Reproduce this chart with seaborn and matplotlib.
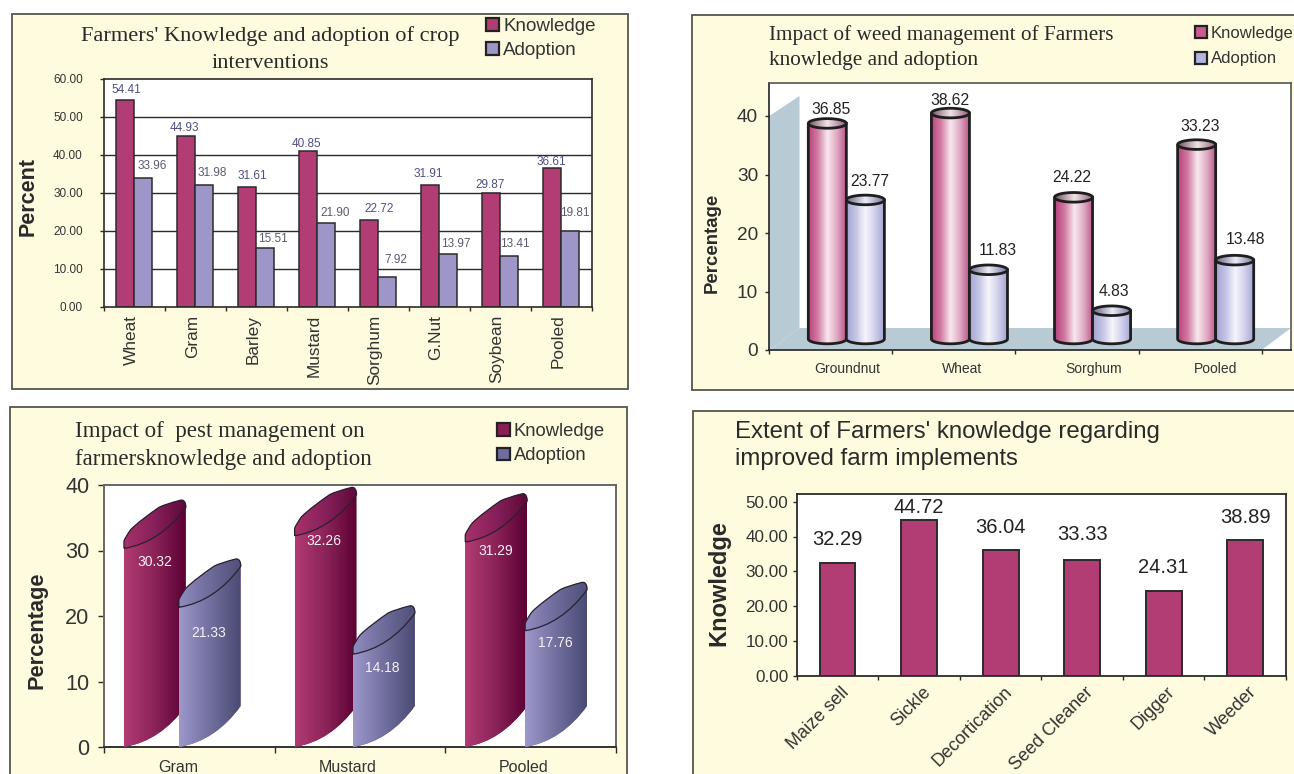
import numpy as np
import pandas as pd
import matplotlib
matplotlib.use("Agg")
import matplotlib.pyplot as plt
import seaborn as sns
from matplotlib.colors import LinearSegmentedColormap
from matplotlib.patches import Patch, PathPatch, Rectangle
from matplotlib.path import Path

# ---- chart values ----
series = ["Knowledge", "Adoption"]

crops = ["Wheat", "Gram", "Barley", "Mustard", "Sorghum", "G.Nut", "Soybean", "Pooled"]
crop_knowledge = [54.41, 44.93, 31.61, 40.85, 22.72, 31.91, 29.87, 36.61]
crop_adoption = [33.96, 31.98, 15.51, 21.90, 7.92, 13.97, 13.41, 19.81]

weed_crops = ["Groundnut", "Wheat", "Sorghum", "Pooled"]
weed_knowledge = [36.85, 38.62, 24.22, 33.23]
weed_adoption = [23.77, 11.83, 4.83, 13.48]

pest_crops = ["Gram", "Mustard", "Pooled"]
pest_knowledge = [30.32, 32.26, 31.29]
pest_adoption = [21.33, 14.18, 17.76]

implements = ["Maize sell", "Sickle", "Decortication", "Seed Cleaner", "Digger", "Weeder"]
implement_knowledge = [32.29, 44.72, 36.04, 33.33, 24.31, 38.89]

# ---- page setup ----
W, H = 1294, 774
CREAM = "#FFFBDE"
FRAME = "#55554C"
INK = "#2A2A2A"
SERIF = "Liberation Serif"
SANS = "Liberation Sans"

sns.set_theme(style="white")
plt.rcParams["font.family"] = [SANS, "DejaVu Sans"]
fig = plt.figure(figsize=(W / 100, H / 100), dpi=100, facecolor="white")


def fx(px):
    return px / W


def fy(py):
    return 1 - py / H


def add_panel(left, top, right, bottom):
    fig.add_artist(Rectangle((fx(left), fy(bottom)), (right - left) / W, (bottom - top) / H,
                             transform=fig.transFigure, facecolor=CREAM,
                             edgecolor=FRAME, linewidth=1.3, zorder=-5))


def add_axes(left, top, right, bottom):
    ax = fig.add_axes([fx(left), fy(bottom), (right - left) / W, (bottom - top) / H])
    ax.set_facecolor("white")
    return ax


def long_table(cats, **columns):
    return pd.DataFrame({"cat": cats, **columns}).melt(id_vars="cat", var_name="series", value_name="value")


def draw_bars(ax, table, colors, width, edge="none", lw=0.0):
    sns.barplot(data=table, x="cat", y="value", hue="series", hue_order=list(colors),
                palette=colors, width=width, gap=0, saturation=1, errorbar=None,
                edgecolor=edge, linewidth=lw, legend=False, ax=ax)
    ax.set_xlabel("")
    ax.set_ylabel("")
    ax.set_autoscale_on(False)


def style_axes(ax, n, xlim, ylim, yticks, fmt, tick_size, pad, spine, spine_lw=1.0, ticklen=3.0):
    ax.set_xlim(*xlim)
    ax.set_ylim(*ylim)
    ax.set_xticks(np.arange(n + 1) - 0.5, labels=[""] * (n + 1))
    ax.set_yticks(yticks, labels=[fmt.format(v) for v in yticks])
    ax.tick_params(axis="both", direction="out", length=ticklen, width=1.0, color=INK,
                   bottom=True, left=True)
    ax.tick_params(axis="y", labelsize=tick_size, labelcolor="#333333", pad=pad)
    for side, s in ax.spines.items():
        s.set_color(spine)
        s.set_linewidth(spine_lw)
        s.set_visible(True)


def category_labels(ax, cats, nudges, drop, size, rotation=0, ha="center", va="center", mode="default"):
    for i, (cat, dx) in enumerate(zip(cats, nudges)):
        ax.annotate(cat, xy=(i, 0), xycoords=("data", "axes fraction"),
                    xytext=(dx, -drop), textcoords="offset pixels", fontsize=size,
                    rotation=rotation, ha=ha, va=va, rotation_mode=mode,
                    color="#333333", annotation_clip=False)


def legend_at(ax, colors, left, top, size, swatch, row_gap, edge="#222222"):
    handles = [Patch(facecolor=c, edgecolor=edge, linewidth=1.6) for c in colors.values()]
    size_px = size * 100 / 72
    ax.legend(handles, list(colors), loc="upper left",
              bbox_to_anchor=(fx(left), fy(top)), bbox_transform=fig.transFigure,
              frameon=False, fontsize=size, borderpad=0, borderaxespad=0,
              handlelength=swatch / size_px, handleheight=swatch / size_px,
              handletextpad=0.22, labelspacing=row_gap / size_px, labelcolor="#333333")


def gradient_fill(ax, path, stops, zorder):
    box = path.get_extents()
    cmap = LinearSegmentedColormap.from_list("shade", stops)
    im = ax.imshow(np.linspace(0, 1, 256)[None, :], cmap=cmap, aspect="auto",
                   extent=(box.x0, box.x1, box.y0, box.y1), zorder=zorder,
                   interpolation="bilinear")
    im.set_clip_path(path, transform=ax.transData)
    return im


# ---- crop interventions: flat grouped bars ----
add_panel(12, 14, 628, 389)
ax = add_axes(103.7, 78.7, 591.5, 306.7)
colors_a = {"Knowledge": "#B23C74", "Adoption": "#9E96C8"}
draw_bars(ax, long_table(crops, Knowledge=crop_knowledge, Adoption=crop_adoption),
          colors_a, 0.6, edge="#2B2B2B", lw=1.1)
style_axes(ax, len(crops), (-0.5, len(crops) - 0.5), (0, 60), list(range(0, 70, 10)),
           "{:.2f}", 8.5, 12, "#2B2B2B", 1.2)
ax.grid(False)
for v in range(10, 60, 10):
    ax.axhline(v, color="#2B2B2B", lw=1.0, zorder=0.5)
ax.set_axisbelow(True)
category_labels(ax, crops, [-3] * len(crops), 8, 12.4, rotation=90, va="top")
nudge_a = [[(1, 10), (-2, 8), (5, 10.5), (-1, 7.5), (10, 11), (-2, 11), (-1, 8.5), (-1, 6)],
           [(9, 12), (8, 12), (8, 9), (9, 10.5), (9, 17), (8, 10), (5.5, 12), (5, 18)]]
label_colors_a = ["#4E4E86", "#5A5A70"]
for k, values in enumerate((crop_knowledge, crop_adoption)):
    for bar, v, (dx, dy) in zip(ax.containers[k], values, nudge_a[k]):
        ax.annotate(f"{v:.2f}", xy=(bar.get_x() + bar.get_width() / 2, v), xytext=(dx, dy),
                    textcoords="offset pixels", ha="center", va="center", fontsize=8.5,
                    color=label_colors_a[k], annotation_clip=False)
fig.text(fx(270), fy(36), "Farmers' Knowledge and adoption of crop", family=SERIF,
         fontsize=16.1, ha="center", va="center", color=INK)
fig.text(fx(270.5), fy(64), "interventions", family=SERIF, fontsize=16.1,
         ha="center", va="center", color=INK)
fig.text(fx(27.8), fy(196.7), "Percent", fontsize=15.5, weight="bold", rotation=90,
         ha="center", va="center", color=INK)
legend_at(ax, colors_a, 486, 18, 13.5, 13, 6.5)

# ---- weed management: cylinders standing on a shaded floor ----
add_panel(692, 14.7, 1310, 390)
ax = add_axes(769.3, 83, 1291, 350)
colors_b = {"Knowledge": "#C85C8E", "Adoption": "#B4B4DE"}
cat_px, val_px = 123.1, 5.85
draw_bars(ax, long_table(weed_crops, Knowledge=weed_knowledge, Adoption=weed_adoption),
          colors_b, 0.618)
style_axes(ax, len(weed_crops), (-0.5, -0.5 + (1291 - 769.3) / cat_px),
           (0, 267 / val_px), [0, 10, 20, 30, 40], "{:d}", 13.7, 5, "#555555", 1.2, 3.0)
ax.spines["left"].set_color("#222222")
ax.spines["bottom"].set_color("#222222")


def bx(px):
    return -0.5 + (px - 769.3) / cat_px


def by(py):
    return (350 - py) / val_px


ax.fill([bx(769.3), bx(799.5), bx(799.5), bx(769.3)], [by(116), by(96), by(328), by(350)],
        color="#B8CBD4", lw=0, zorder=0.6)
ax.fill([bx(769.3), bx(1261.7), bx(1291), bx(799.5)], [by(350), by(350), by(328), by(328)],
        color="#B8CBD4", lw=0, zorder=0.6)

depth_x, depth_y = 15.5 / cat_px, 11 / val_px
cap_ry = 4.8 / val_px
side_stops = [["#B8427C", "#D27AA2", "#F8E8EF", "#DFA8C2", "#B84F84"],
              ["#A4A4D4", "#C4C4E4", "#F6F6FC", "#CFCFEA", "#A0A0D0"]]
cap_stops = [["#6B5560", "#B59AA6", "#F0E4E8", "#C29CB0", "#8A5A74"],
             ["#6A6A80", "#A6A6C0", "#ECECF6", "#AEAECC", "#74749A"]]
half = np.linspace(0, np.pi, 40)
nudge_b = [[(3.5, 14), (-1, 13), (-2, 20), (3, 18)], [(4, 18), (9, 19), (2, 19), (11, 21)]]
for k, values in enumerate((weed_knowledge, weed_adoption)):
    for bar, v, (dx, dy) in zip(ax.containers[k], values, nudge_b[k]):
        x0 = bar.get_x() + depth_x
        w = bar.get_width()
        cx, rx = x0 + w / 2, w / 2
        bar.set_x(x0)
        bar.set_y(depth_y)
        top = depth_y + v
        z = 3 + k * 2
        body = Path(np.vstack([[x0, top], [x0, depth_y],
                               np.c_[cx - rx * np.cos(half), depth_y - cap_ry * np.sin(half)],
                               [x0 + w, top], [x0, top]]))
        cap = Path(np.c_[cx + rx * np.cos(np.linspace(0, 2 * np.pi, 60)),
                         top + cap_ry * np.sin(np.linspace(0, 2 * np.pi, 60))], closed=False)
        bar.set_clip_path(body, transform=ax.transData)
        bar.set_zorder(z - 0.5)
        gradient_fill(ax, body, side_stops[k], z)
        ax.add_patch(PathPatch(body, facecolor="none", edgecolor="#1E1E1E", lw=2.0, zorder=z + 0.1))
        gradient_fill(ax, cap, cap_stops[k], z + 0.2)
        ax.add_patch(PathPatch(cap, facecolor="none", edgecolor="#1E1E1E", lw=2.0, zorder=z + 0.3))
        ax.annotate(f"{v:.2f}", xy=(cx, top), xytext=(dx, dy), textcoords="offset pixels",
                    ha="center", va="center", fontsize=11.3, color="#222222",
                    annotation_clip=False, zorder=10)
category_labels(ax, weed_crops, [16, 8, 17, 15], 19, 10)
fig.text(fx(769), fy(35), "Impact of weed management of Farmers", family=SERIF,
         fontsize=15.35, ha="left", va="center", color=INK)
fig.text(fx(769), fy(61), "knowledge and adoption", family=SERIF, fontsize=15.35,
         ha="left", va="center", color=INK)
fig.text(fx(712), fy(243), "Percentage", fontsize=13.4, weight="bold", rotation=90,
         ha="center", va="center", color=INK)
legend_at(ax, colors_b, 1195, 26, 12, 12, 10.5)

# ---- pest management: slanted cylinders, values printed on the bodies ----
add_panel(10, 407, 626.5, 790)
ax = add_axes(104, 485, 616, 747)
colors_c = {"Knowledge": "#8A1F55", "Adoption": "#6F6CA0"}
cat_px, val_px = 170.8, 6.55
draw_bars(ax, long_table(pest_crops, Knowledge=pest_knowledge, Adoption=pest_adoption),
          colors_c, 0.702)
style_axes(ax, len(pest_crops), (-0.5, 2.5), (0, 40), [0, 10, 20, 30, 40], "{:d}",
           15.6, 6, "#666666", 1.4, 4.5)
ax.spines["bottom"].set_color("#333333")

# Outline of the slanted end cap, in pixels from the front-left corner of a bar
front_arc = [(0, 0), (25, 4), (45, 18), (62, 41)]
back_arc = [(62, 46), (60, 49.5), (56, 48), (48, 46), (40, 43.5), (35, 41),
            (25, 34), (14, 26), (7, 19), (4, 15), (1, 10), (0, 7.3)]
arc_codes = [Path.CURVE4] * len(back_arc)
shift_c = [[-5.5, -5.5, -5.5], [-10.5, -7, -5.5]]
side_c = [["#B23C74", "#8A2358", "#5C0033"], ["#9E98CC", "#72709E", "#4A4A74"]]
cap_c = [["#A8326A", "#86205A", "#5E0838"], ["#908CC0", "#6E6C9A", "#50507A"]]
label_pos_c = [[(1, -4.5), (-1, 4), (0, 0)], [(0, -17), (-1, -5), (0, -3.5)]]


def shape_points(points, x0, base):
    return [(x0 + px / cat_px, base + py / val_px) for px, py in points]


for k, values in enumerate((pest_knowledge, pest_adoption)):
    for bar, v, dxpx, (dx, dy) in zip(ax.containers[k], values, shift_c[k], label_pos_c[k]):
        x0 = bar.get_x() + dxpx / cat_px
        bar.set_x(x0)
        z = 3 + k * 2
        outline = (shape_points(front_arc, x0, 0)
                   + shape_points([(62, 41)], x0, v)
                   + shape_points(back_arc, x0, v)
                   + shape_points([(0, 0)], x0, 0))
        codes = [Path.MOVETO] + [Path.CURVE4] * 3 + [Path.LINETO] + arc_codes + [Path.LINETO]
        body = Path(outline, codes)
        bar.set_clip_path(body, transform=ax.transData)
        bar.set_zorder(z - 0.5)
        gradient_fill(ax, body, side_c[k], z)
        cap_pts = shape_points(front_arc, x0, v) + shape_points(back_arc, x0, v) + shape_points([(0, 0)], x0, v)
        cap_codes = [Path.MOVETO] + [Path.CURVE4] * 3 + arc_codes + [Path.LINETO]
        cap = Path(cap_pts, cap_codes)
        gradient_fill(ax, cap, cap_c[k], z + 0.1)
        ax.add_patch(PathPatch(cap, facecolor="none", edgecolor="#2A2030", lw=0.9, zorder=z + 0.2))
        ax.annotate(f"{v:.2f}", xy=(x0 + 30 / cat_px, v), xytext=(dx, dy - 9),
                    textcoords="offset pixels", ha="center", va="center", fontsize=10,
                    color="#F6F0F4", annotation_clip=False, zorder=10)
ax.spines["top"].set_zorder(1)
category_labels(ax, pest_crops, [-11.4, -12.7, -7], 20.6, 11.5)
fig.text(fx(74.7), fy(432), "Impact of  pest management on", family=SERIF,
         fontsize=16.6, ha="left", va="center", color=INK)
fig.text(fx(74.7), fy(460), "farmersknowledge and adoption", family=SERIF,
         fontsize=16.6, ha="left", va="center", color=INK)
fig.text(fx(36.7), fy(630), "Percentage", fontsize=15.7, weight="bold", rotation=90,
         ha="center", va="center", color=INK)
legend_at(ax, colors_c, 497, 423, 13.2, 12.5, 7.5)

# ---- farm implements: single-series bars ----
add_panel(692.5, 410.7, 1310, 790)
ax = add_axes(796.7, 494.3, 1286, 675.7)
implement_table = pd.DataFrame({"cat": implements, "series": "Knowledge", "value": implement_knowledge})
colors_d = {"Knowledge": "#B23C74"}
sns.barplot(data=implement_table, x="cat", y="value", color=colors_d["Knowledge"], width=0.44,
            saturation=1, errorbar=None, edgecolor="#2B2B2B", linewidth=1.4, ax=ax)
ax.set_xlabel("")
ax.set_ylabel("")
style_axes(ax, len(implements), (-0.5, 5.5), (0, 181.4 / 3.48), list(range(0, 60, 10)),
           "{:.2f}", 12.3, 3, "#2B2B2B", 1.3, 3.0)
nudge_d = [24, 13, 23, 25, 24, 23]
for bar, v, dy in zip(ax.containers[0], implement_knowledge, nudge_d):
    ax.annotate(f"{v:.2f}", xy=(bar.get_x() + bar.get_width() / 2, v), xytext=(0, dy),
                textcoords="offset pixels", ha="center", va="center", fontsize=14.5,
                color="#222222", annotation_clip=False)
category_labels(ax, implements, [9] * len(implements), 14, 13, rotation=45, ha="right",
                va="center", mode="anchor")
fig.text(fx(734.8), fy(432), "Extent of Farmers' knowledge regarding", fontsize=17.3,
         ha="left", va="center", color=INK)
fig.text(fx(734.8), fy(459), "improved farm implements", fontsize=17.3,
         ha="left", va="center", color=INK)
fig.text(fx(718.4), fy(583), "Knowledge", fontsize=17, weight="bold", rotation=90,
         ha="center", va="center", color=INK)

fig.savefig("out.png", dpi=100, facecolor="white")
